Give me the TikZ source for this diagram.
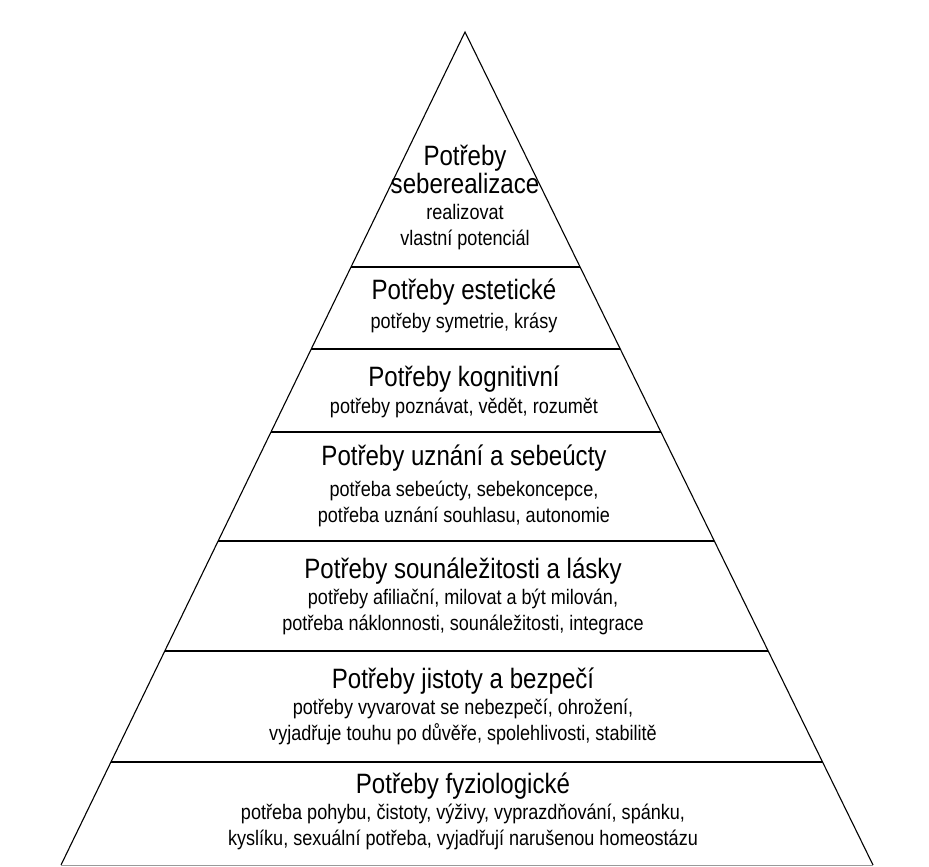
\documentclass[tikz,border=0pt]{standalone}
\usepackage{fontspec}
\setmainfont{Liberation Sans}[FakeStretch=0.86]
\usetikzlibrary{calc}

\begin{document}
\begin{tikzpicture}[x=1pt,y=-1pt,
                       edge line/.style={line width=1.1pt},
                       level line/.style={line width=1.6pt},
                       title node/.style={anchor=base,inner sep=0pt,align=center,
                                          font=\fontsize{28}{25}\selectfont},
                       sub node/.style={anchor=base,inner sep=0pt,align=center,
                                        font=\fontsize{21}{26}\selectfont}
                           ]
   \useasboundingbox (0,0) rectangle (929,867);
   \fill[white] (0,0) rectangle (929,867);
   \coordinate (top) at (465,32);
   \coordinate (bl) at (61,865);
   \coordinate (br) at (873,865);
   \coordinate (l1) at ($(top)!{(267-32)/833}!(bl)$);
   \coordinate (r1) at ($(top)!{(267-32)/833}!(br)$);
   \coordinate (l2) at ($(top)!{(349-32)/833}!(bl)$);
   \coordinate (r2) at ($(top)!{(349-32)/833}!(br)$);
   \coordinate (l3) at ($(top)!{(432-32)/833}!(bl)$);
   \coordinate (r3) at ($(top)!{(432-32)/833}!(br)$);
   \coordinate (l4) at ($(top)!{(541-32)/833}!(bl)$);
   \coordinate (r4) at ($(top)!{(541-32)/833}!(br)$);
   \coordinate (l5) at ($(top)!{(651-32)/833}!(bl)$);
   \coordinate (r5) at ($(top)!{(651-32)/833}!(br)$);
   \coordinate (l6) at ($(top)!{(762-32)/833}!(bl)$);
   \coordinate (r6) at ($(top)!{(762-32)/833}!(br)$);
   \draw[edge line] (bl) -- (top) -- (br);
   \draw[black!40,line width=0.8pt] (bl) -- (br);
   \draw[level line] (l1) -- (r1);
   \draw[level line] (l2) -- (r2);
   \draw[level line] (l3) -- (r3);
   \draw[level line] (l4) -- (r4);
   \draw[level line] (l5) -- (r5);
   \draw[level line] (l6) -- (r6);
   % multi-line nodes sit on the baseline of their last line
   \node[title node] (sebe) at (465,193) {Potřeby\\seberealizace};
   \node[sub node] (sebesub) at (465,245) {realizovat\\vlastní potenciál};
   \node[title node] (est) at (464,299) {Potřeby estetické};
   \node[sub node] (estsub) at (464,328) {potřeby symetrie, krásy};
   \node[title node] (kog) at (464,386) {Potřeby kognitivní};
   \node[sub node] (kogsub) at (464,413) {potřeby poznávat, vědět, rozumět};
   \node[title node] (uzn) at (464,465) {Potřeby uznání a sebeúcty};
   \node[sub node] (uznsub) at (464,522) {potřeba sebeúcty, sebekoncepce,\\potřeba uznání souhlasu, autonomie};
   \node[title node] (soun) at (463,578) {Potřeby sounáležitosti a lásky};
   \node[sub node] (sounsub) at (463,630) {potřeby afiliační, milovat a být milován,\\potřeba náklonnosti, sounáležitosti, integrace};
   \node[title node] (jist) at (463,688) {Potřeby jistoty a bezpečí};
   \node[sub node] (jistsub) at (463,740) {potřeby vyvarovat se nebezpečí, ohrožení,\\vyjadřuje touhu po důvěře, spolehlivosti, stabilitě};
   \node[title node] (fyz) at (463,793) {Potřeby fyziologické};
   \node[sub node] (fyzsub) at (463,845) {potřeba pohybu, čistoty, výživy, vyprazdňování, spánku,\\kyslíku, sexuální potřeba, vyjadřují narušenou homeostázu};
      \end{tikzpicture}
\end{document}
